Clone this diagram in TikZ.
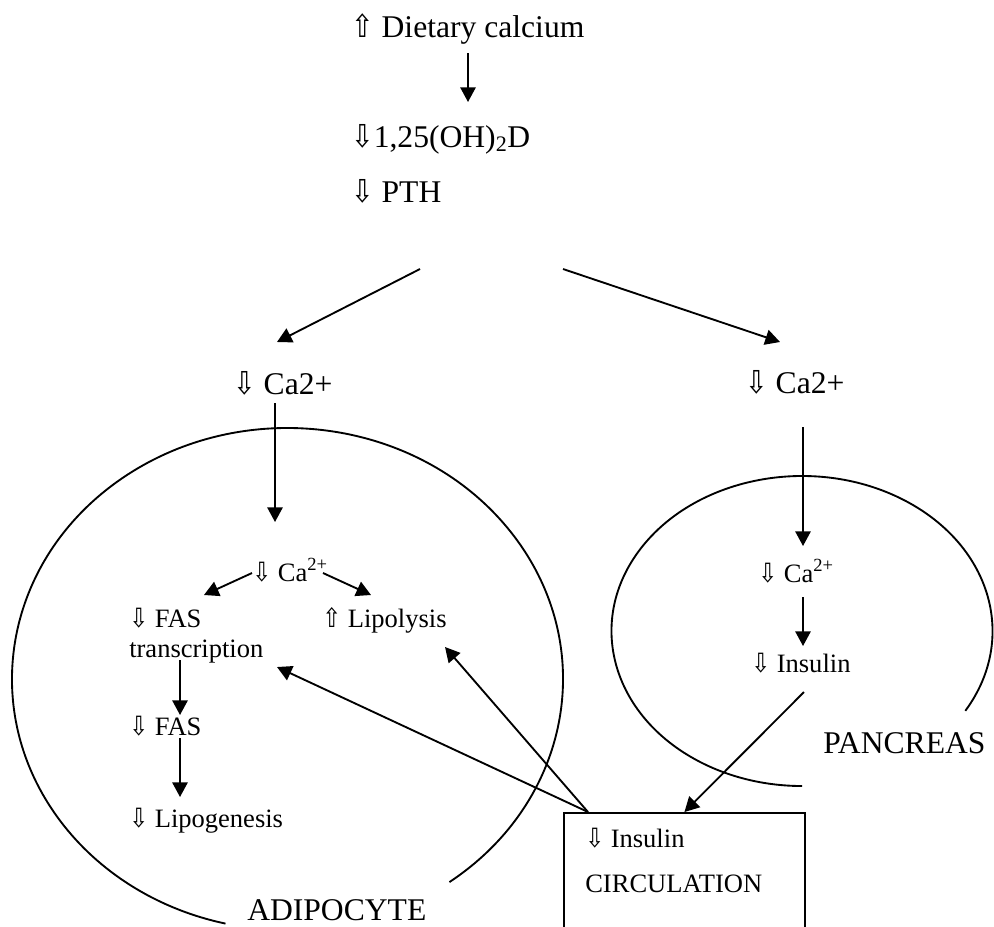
\documentclass[tikz,border=0pt]{standalone}
\usepackage{fontspec}
\usepackage{graphicx}
\setmainfont{Liberation Serif}
\newfontfamily\arrowfont{DejaVu Sans}
\usetikzlibrary{arrows.meta}
\newcommand{\dnarr}{{\arrowfont\scalebox{0.85}[1.0]{⇩}}}
\newcommand{\uparr}{{\arrowfont\scalebox{0.85}[1.0]{⇧}}}
\tikzset{
  big/.style={font=\fontsize{23.7}{28}\selectfont, inner sep=0pt, anchor=base west},
  small/.style={font=\fontsize{19.9}{24}\selectfont, inner sep=0pt, anchor=base west},
  conn/.style={line width=1.4pt, -{Triangle[length=11pt,width=11.5pt]}},
  memb/.style={line width=1.4pt},
}
\begin{document}
\begin{tikzpicture}[x=0.75pt,y=0.75pt]
\useasboundingbox (0,0) rectangle (994,-926);
\clip (0,0) rectangle (994,-926);
\fill[white] (0,0) rectangle (994,-926);

% membranes
\draw[memb] ([shift={(-54:275.5 and 251)}]287.5,-679) arc[start angle=-54, end angle=257, x radius=275.5, y radius=251];
\draw[memb] ([shift={(-31:190.5 and 155)}]802,-631) arc[start angle=-31, end angle=270, x radius=190.5, y radius=155];

% texts
\node[big] (diet) at (351,-37) {\uparr\ Dietary calcium};
\node[big] (vitd) at (351,-147) {\dnarr1,25(OH)\textsubscript{2}D};
\node[big] (pth) at (351,-202) {\dnarr\ PTH};
\node[big] (caL) at (233,-394) {\dnarr\ Ca2+};
\node[big] (caR) at (745,-393) {\dnarr\ Ca2+};
\node[small] (caA) at (252,-581) {\dnarr\ Ca\textsuperscript{2+}};
\node[small] (fast) at (129,-627) {\dnarr\ FAS};
\node[small] (transc) at (129,-657) {transcription};
\node[small] (lipo) at (322,-627) {\uparr\ Lipolysis};
\node[small] (fas) at (129,-735) {\dnarr\ FAS};
\node[small] (lipog) at (129,-827) {\dnarr\ Lipogenesis};
\node[small] (caP) at (758,-582) {\dnarr\ Ca\textsuperscript{2+}};
\node[small] (insP) at (751,-672) {\dnarr\ Insulin};
\node[big] (panc) at (823,-753) {PANCREAS};
\node[big] (adipo) at (247,-920) {ADIPOCYTE};

% circulation box
\node[draw, line width=1.4pt, rectangle, minimum width=180.75pt, minimum height=150pt, anchor=north west, inner sep=0pt] (circ) at (563,-812) {};
\node[small] (insC) at (585,-847) {\dnarr\ Insulin};
\node[small] (circlbl) at (585,-892) {CIRCULATION};

% connector end points
\coordinate (d1) at (468,-53);   \coordinate (d2) at (468,-102);
\coordinate (pL) at (420,-269);  \coordinate (pLt) at (277,-342);
\coordinate (pR) at (563,-269);  \coordinate (pRt) at (780,-342);
\coordinate (cL1) at (275,-403); \coordinate (cL2) at (275,-522);
\coordinate (cR1) at (803,-427); \coordinate (cR2) at (803,-546);
\coordinate (a1) at (252,-573);  \coordinate (a1t) at (204,-595);
\coordinate (a2) at (323,-573);  \coordinate (a2t) at (371,-595);
\coordinate (t1) at (180,-660);  \coordinate (t2) at (180,-715);
\coordinate (f1) at (180,-738);  \coordinate (f2) at (180,-797);
\coordinate (p1) at (803,-597);  \coordinate (p2) at (803,-646);
\coordinate (i1) at (804,-692);
\coordinate (bx) at (588,-812);
\coordinate (tt) at (277,-667);
\coordinate (lt) at (445,-647);

\draw[conn] (d1) -- (d2);
\draw[conn] (pL) -- (pLt);
\draw[conn] (pR) -- (pRt);
\draw[conn] (cL1) -- (cL2);
\draw[conn] (cR1) -- (cR2);
\draw[conn] (a1) -- (a1t);
\draw[conn] (a2) -- (a2t);
\draw[conn] (t1) -- (t2);
\draw[conn] (f1) -- (f2);
\draw[conn] (p1) -- (p2);
\draw[conn] (i1) -- (circ.north);
\draw[conn] (bx) -- (tt);
\draw[conn] (bx) -- (lt);
\end{tikzpicture}
\end{document}
